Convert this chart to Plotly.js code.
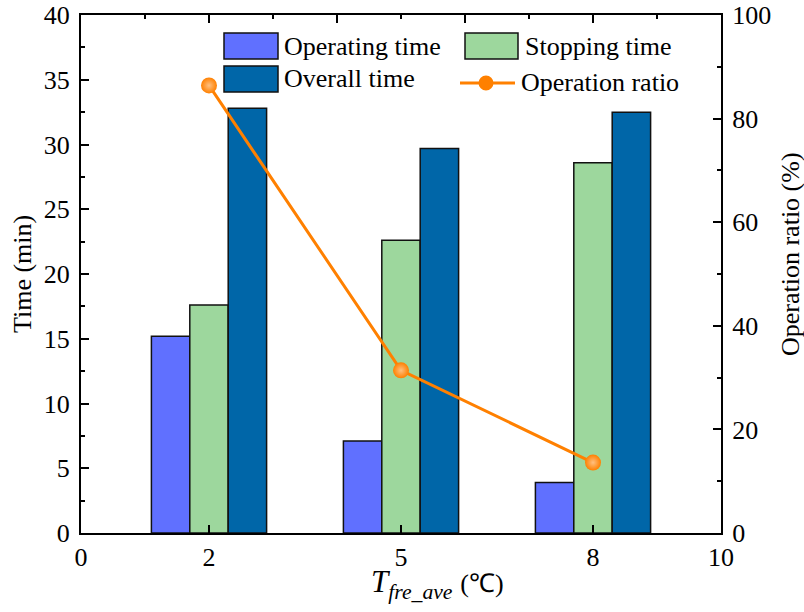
<!DOCTYPE html>
<html>
<head>
<meta charset="utf-8">
<script src="https://cdn.plot.ly/plotly-3.0.1.min.js"></script>
<style>html,body{margin:0;padding:0;background:#fff;}</style>
</head>
<body>
<div id="chart" style="width:804px;height:612px;"></div>
<script>
// Average freezer temperature groups (°C)
const temps = [2, 5, 8];
// Compressor timing per cycle (min)
const operatingTime = [15.2, 7.1, 3.9];
const stoppingTime = [17.6, 22.6, 28.6];
const overallTime = [32.8, 29.7, 32.5];
// Operating / stopping time (%)
const operationRatio = [86.4, 31.4, 13.6];
// Bottom axis ticks
const xTickVals = [0, 2, 5, 8, 10];
const xTickText = ['0', '2', '5', '8', '10'];

const seriesNames = ['Operating time', 'Stopping time', 'Overall time', 'Operation ratio'];
const colors = {op: '#6070FF', stop: '#9DD79D', all: '#0066A8', ratio: '#FF8000'};

const FONT = 'Liberation Serif, serif';
const FS = 26;
const barLine = {color: '#111', width: 1.5};

const traces = [
  {type: 'bar', name: seriesNames[0], x: temps, y: operatingTime,
   marker: {color: colors.op, line: barLine}},
  {type: 'bar', name: seriesNames[1], x: temps, y: stoppingTime,
   marker: {color: colors.stop, line: barLine}},
  {type: 'bar', name: seriesNames[2], x: temps, y: overallTime,
   marker: {color: colors.all, line: barLine}},
  {type: 'scatter', mode: 'lines+markers', name: seriesNames[3],
   x: temps, y: operationRatio, xaxis: 'x2', yaxis: 'y2',
   line: {color: colors.ratio, width: 3},
   marker: {color: colors.ratio, size: 16, line: {width: 0},
            gradient: {type: 'radial', color: '#FFC080'}}}
];

const tickCommon = {ticks: 'inside', tickwidth: 2, tickcolor: '#000', ticklen: 8,
  showline: true, linewidth: 2, linecolor: '#000', showgrid: false, zeroline: false,
  tickfont: {family: FONT, size: FS, color: '#000'}};
const minorCommon = {ticks: 'inside', ticklen: 4, tickwidth: 2, tickcolor: '#000', showgrid: false};

// Legend built from swatches and labels in paper coordinates
const px = v => (v - 81) / 640;
const py = v => (533 - v) / 518;
const shapes = [];
const annotations = [];
function swatch(x0, x1, y0, y1, color) {
  shapes.push({type: 'rect', xref: 'paper', yref: 'paper',
    x0: px(x0), x1: px(x1), y0: py(y1), y1: py(y0),
    fillcolor: color, line: {color: '#111', width: 1.5}});
}
function label(text, x, y) {
  annotations.push({xref: 'paper', yref: 'paper', x: px(x), y: py(y),
    xanchor: 'left', yanchor: 'middle', showarrow: false, text: text,
    font: {family: FONT, size: FS, color: '#000'}});
}
swatch(224, 278, 33, 59, colors.op);
label(seriesNames[0], 282, 46);
swatch(465, 518, 33, 59, colors.stop);
label(seriesNames[1], 523, 46);
swatch(224, 278, 66, 92, colors.all);
label(seriesNames[2], 282, 79);
shapes.push({type: 'line', xref: 'paper', yref: 'paper',
  x0: px(460), x1: px(515), y0: py(83), y1: py(83),
  line: {color: colors.ratio, width: 3}});
shapes.push({type: 'circle', xref: 'paper', yref: 'paper',
  x0: px(478.5), x1: px(493.5), y0: py(90.5), y1: py(75.5),
  fillcolor: colors.ratio, line: {width: 0}});
label(seriesNames[3], 519, 83);

// Axis titles
annotations.push({xref: 'paper', yref: 'paper', x: px(437), y: py(584),
  xanchor: 'center', yanchor: 'middle', showarrow: false,
  text: '<i>T</i><sub><i>fre_ave</i></sub> <span style="font-size:26px">(℃)</span>',
  font: {family: FONT, size: 31, color: '#000'}});
annotations.push({xref: 'paper', yref: 'paper', x: px(22), y: py(274),
  xanchor: 'center', yanchor: 'middle', showarrow: false, textangle: -90,
  text: 'Time (min)', font: {family: FONT, size: FS, color: '#000'}});
annotations.push({xref: 'paper', yref: 'paper', x: px(791), y: py(254),
  xanchor: 'center', yanchor: 'middle', showarrow: false, textangle: -90,
  text: 'Operation ratio (%)', font: {family: FONT, size: FS, color: '#000'}});

const layout = {
  width: 804, height: 612,
  margin: {l: 81, r: 83, t: 15, b: 79, pad: 0},
  paper_bgcolor: '#fff', plot_bgcolor: '#fff',
  font: {family: FONT, size: FS, color: '#000'},
  showlegend: false,
  barmode: 'group', bargap: 0.4, bargroupgap: 0,
  xaxis: Object.assign({}, tickCommon, {range: [0, 10], tickvals: xTickVals, ticktext: xTickText,
    ticklabelstandoff: 0}),
  xaxis2: Object.assign({}, tickCommon, {overlaying: 'x', side: 'top', anchor: 'y2', range: [0, 10],
    tick0: 0, dtick: 2, showticklabels: false, minor: Object.assign({dtick: 1}, minorCommon)}),
  yaxis: Object.assign({}, tickCommon, {range: [0, 40], tick0: 0, dtick: 5, ticklabelstandoff: 4,
    minor: Object.assign({dtick: 2.5}, minorCommon)}),
  yaxis2: Object.assign({}, tickCommon, {overlaying: 'y', side: 'right', anchor: 'x2', range: [0, 100],
    tick0: 0, dtick: 20, ticklabelstandoff: 4, minor: Object.assign({dtick: 10}, minorCommon)}),
  shapes: shapes,
  annotations: annotations
};

Plotly.newPlot('chart', traces, layout, {displayModeBar: false, staticPlot: true});
</script>
</body>
</html>
